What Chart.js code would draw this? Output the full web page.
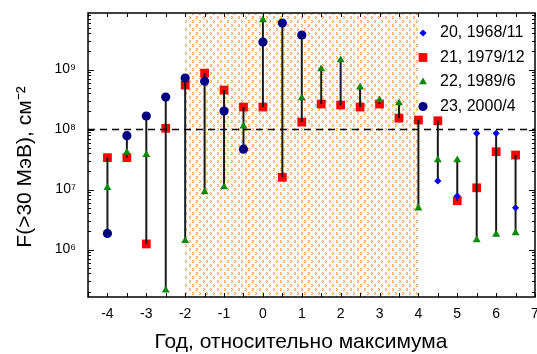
<!DOCTYPE html>
<html>
<head>
<meta charset="utf-8">
<script src="https://cdn.jsdelivr.net/npm/chart.js@4.4.0/dist/chart.umd.min.js"></script>
<style>
  body { margin: 0; background: #fff; }
  #wrap { width: 537px; height: 354px; }
</style>
</head>
<body>
<div id="wrap"><canvas id="fluxChart" width="537" height="354"></canvas></div>
<script>
// years relative to solar maximum
const years = [-4, -3.5, -3, -2.5, -2, -1.5, -1, -0.5, 0, 0.5, 1, 1.5, 2, 2.5, 3, 3.5, 4, 4.5, 5, 5.5, 6, 6.5];

// fluence F(>30 MeV), cm^-2, per cycle
const cycle20 = [null, null, null, null, null, null, null, null, null, null, null,
  null, null, null, null, null, null, 1.39e7, 7.8e6, 8.65e7, 8.65e7, 4.97e6];
const cycle21 = [3.4e7, 3.4e7, 1.24e6, 1.05e8, 5.5e8, 8.7e8, 4.55e8, 2.37e8, 2.37e8, 1.6e7, 1.33e8,
  2.66e8, 2.56e8, 2.37e8, 2.66e8, 1.55e8, 1.44e8, 1.4e8, 6.5e6, 1.07e7, 4.27e7, 3.76e7];
const cycle22 = [1.07e7, 4.17e7, 3.8e7, 2.1e5, 1.4e6, 9.1e6, 1.1e7, 1.14e8, 6.7e9, null, 3.35e8,
  1.02e9, 1.44e9, 5.1e8, 3.1e8, 2.77e8, 4.9e6, 3.1e7, 3.1e7, 1.44e6, 1.79e6, 1.9e6];
const cycle23 = [1.86e6, 7.9e7, 1.68e8, 3.48e8, 7.2e8, 6.4e8, 2.03e8, 4.7e7, 2.87e9, 5.96e9, 3.76e9,
  null, null, null, null, null, null, null, null, null, null, null];

const seriesLabels = ["20, 1968/11", "21, 1979/12", "22, 1989/6", "23, 2000/4"];
const xTickValues = [-4, -3, -2, -1, 0, 1, 2, 3, 4, 5, 6, 7];
const yTickValues = [1e6, 1e7, 1e8, 1e9];
const maxRange = [-2, 4];   // shaded period around maximum
const threshold = 1e8;      // dashed reference level

const FONT = "'Liberation Sans', Arial, sans-serif";
const sup = { "6": "\u2076", "7": "\u2077", "8": "\u2078", "9": "\u2079" };

// ------------------ Build datasets ------------------
const toPoints = arr => years.map((x, i) => ({ x, y: arr[i] })).filter(p => p.y !== null);

// vertical spread line from min to max at every year
const spreadPoints = [];
years.forEach((x, i) => {
  const vals = [cycle20[i], cycle21[i], cycle22[i], cycle23[i]].filter(v => v !== null);
  if (vals.length < 2) return;
  spreadPoints.push({ x, y: Math.min(...vals) }, { x, y: Math.max(...vals) }, { x, y: null });
});

const styles = [
  { pointStyle: "rectRot", radius: 3.6, color: "#0000ff" },
  { pointStyle: "rect", radius: 6.2, color: "#ff0000" },
  { pointStyle: "triangle", radius: 4.6, color: "#0a8a0a" },
  { pointStyle: "circle", radius: 4.6, color: "#000080" }
];

function makeHatch(ctx) {
  const tile = document.createElement("canvas");
  tile.width = 7; tile.height = 8;
  const t = tile.getContext("2d");
  const mark = (x, y) => {
    t.fillStyle = "#f59a45";
    t.fillRect(x, y, 1, 1); t.fillRect(x + 1, y + 1, 1, 1); t.fillRect(x, y + 2, 1, 1);
    t.fillStyle = "#fcd3a8";
    t.fillRect(x + 1, y, 1, 1); t.fillRect(x + 1, y + 2, 1, 1);
  };
  mark(0, 0);
  mark(3, 4);
  return ctx.createPattern(tile, "repeat");
}

// ------------------ Plugins ------------------
const backdrop = {
  id: "backdrop",
  beforeDatasetsDraw(chart) {
    const { ctx, chartArea: a, scales: { x } } = chart;
    ctx.save();
    ctx.fillStyle = makeHatch(ctx);
    const x0 = x.getPixelForValue(maxRange[0]);
    const x1 = x.getPixelForValue(maxRange[1]);
    ctx.fillRect(x0, a.top, x1 - x0, a.bottom - a.top);
    ctx.restore();
  },
  afterDatasetsDraw(chart) {
    const { ctx, chartArea: a, scales: { y } } = chart;
    ctx.save();
    ctx.strokeStyle = "#000";
    ctx.lineWidth = 1.6;
    ctx.setLineDash([7, 5]);
    const yy = y.getPixelForValue(threshold);
    ctx.beginPath();
    ctx.moveTo(a.left, yy);
    ctx.lineTo(a.right, yy);
    ctx.stroke();
    ctx.restore();
  }
};

const frame = {
  id: "frame",
  afterDraw(chart) {
    const { ctx, chartArea: a, scales: { x, y } } = chart;
    ctx.save();
    ctx.strokeStyle = "#000";
    ctx.lineWidth = 1.5;
    ctx.strokeRect(a.left, a.top, a.right - a.left, a.bottom - a.top);

    // inward ticks, every half year on top and bottom
    ctx.lineWidth = 1;
    ctx.beginPath();
    for (let v = -4.5; v <= 7; v += 0.5) {
      const px = Math.round(x.getPixelForValue(v)) + 0.5;
      ctx.moveTo(px, a.bottom); ctx.lineTo(px, a.bottom - 4);
      ctx.moveTo(px, a.top); ctx.lineTo(px, a.top + 4);
    }
    // log ticks left and right
    for (let e = 5; e <= 9; e++) {
      for (let m = 1; m <= 9; m++) {
        const v = m * Math.pow(10, e);
        if (v < y.min || v > y.max) continue;
        const py = Math.round(y.getPixelForValue(v)) + 0.5;
        const len = m === 1 ? 6 : 3;
        ctx.moveTo(a.left, py); ctx.lineTo(a.left + len, py);
        ctx.moveTo(a.right, py); ctx.lineTo(a.right - len, py);
      }
    }
    ctx.stroke();

    // axis titles
    ctx.fillStyle = "#000";
    ctx.font = "21px " + FONT;
    ctx.textAlign = "center";
    ctx.textBaseline = "middle";
    ctx.fillText("Год, относительно максимума", 301, 342);
    ctx.translate(25, 167);
    ctx.rotate(-Math.PI / 2);
    ctx.fillText("F(>30 МэВ), см\u207B\u00B2", 0, 0);
    ctx.restore();

    // legend
    ctx.save();
    ctx.font = "16px " + FONT;
    ctx.textAlign = "left";
    ctx.textBaseline = "middle";
    seriesLabels.forEach((label, i) => {
      const s = styles[i];
      const ly = 33 + i * 24.5;
      ctx.fillStyle = s.color;
      ctx.strokeStyle = s.color;
      Chart.helpers.drawPoint(ctx, { pointStyle: s.pointStyle, radius: s.radius, borderWidth: 0, rotation: 0 }, 423, ly);
      ctx.fillStyle = "#000";
      ctx.fillText(label, 440, ly);
    });
    ctx.restore();
  }
};

// ------------------ Chart ------------------
const ctx = document.getElementById("fluxChart").getContext("2d");
const cycles = [cycle20, cycle21, cycle22, cycle23];
const drawOrder = [2, 4, 1, 0];

const datasets = cycles.map((arr, i) => ({
  label: seriesLabels[i],
  data: toPoints(arr),
  pointStyle: styles[i].pointStyle,
  pointRadius: styles[i].radius,
  pointBackgroundColor: styles[i].color,
  pointBorderColor: styles[i].color,
  pointBorderWidth: 0,
  order: drawOrder[i]
}));

datasets.push({
  label: "spread",
  type: "line",
  data: spreadPoints,
  showLine: true,
  spanGaps: false,
  borderColor: "#1a1a1a",
  borderWidth: 2,
  pointRadius: 0,
  order: 3
});

const noPad = scale => {
  scale.paddingLeft = 0; scale.paddingRight = 0;
  scale.paddingTop = 0; scale.paddingBottom = 0;
};

new Chart(ctx, {
  type: "scatter",
  data: { datasets },
  options: {
    responsive: false,
    animation: false,
    events: [],
    layout: { autoPadding: false, padding: { top: 13, right: 2, left: 0, bottom: 0 } },
    plugins: { legend: { display: false }, tooltip: { enabled: false } },
    scales: {
      x: {
        type: "linear",
        min: -4.5,
        max: 7,
        grid: { display: false, drawTicks: false },
        border: { display: false },
        ticks: { color: "#000", font: { size: 14, family: FONT }, padding: 9, maxRotation: 0 },
        afterBuildTicks: scale => { scale.ticks = xTickValues.map(v => ({ value: v })); },
        afterFit: scale => { scale.height = 57; noPad(scale); }
      },
      y: {
        type: "logarithmic",
        min: 1.62e5,
        max: 8.75e9,
        grid: { display: false, drawTicks: false },
        border: { display: false },
        ticks: {
          color: "#000",
          font: { size: 14, family: FONT },
          padding: 12,
          callback: v => "10" + sup[String(Math.round(Math.log10(v)))]
        },
        afterBuildTicks: scale => { scale.ticks = yTickValues.map(v => ({ value: v })); },
        afterFit: scale => { scale.width = 88; noPad(scale); }
      }
    }
  },
  plugins: [backdrop, frame]
});
</script>
</body>
</html>
